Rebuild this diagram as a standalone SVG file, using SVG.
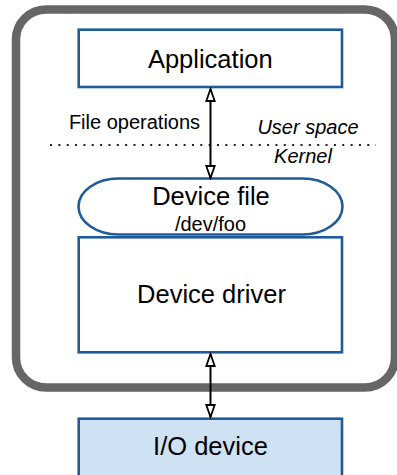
<svg xmlns="http://www.w3.org/2000/svg" width="397" height="475" viewBox="0 0 397 475">
  <style>
    .box { fill: #ffffff; stroke: #1e5b9b; stroke-width: 2.6; }
    .hw { fill: #cfe2f3; stroke: #1e5b9b; stroke-width: 2.6; }
    .lbl { font-family: "Liberation Sans", Arial, sans-serif; fill: #000; text-anchor: middle; }
    .big { font-size: 25.5px; }
    .mid { font-size: 20px; }
    .it { font-style: italic; }
    .link { stroke: #000; stroke-width: 2; fill: none; }
  </style>
  <defs>
    <marker id="head" markerUnits="userSpaceOnUse" markerWidth="16" markerHeight="12" viewBox="0 0 16 12" refX="14" refY="6" orient="auto-start-reverse">
      <path d="M2,1.8 L14,6 L2,10.2 z" fill="#ffffff" stroke="#000" stroke-width="1.8" stroke-linejoin="miter"/>
    </marker>
  </defs>
  <rect width="397" height="475" fill="#ffffff"/>

  <!-- computer enclosure -->
  <g id="system">
    <rect x="16" y="9.5" width="379" height="378" rx="30" ry="30" fill="none" stroke="#666666" stroke-width="8.5"/>
  </g>

  <!-- user / kernel boundary -->
  <g id="boundary">
    <line x1="50" y1="145" x2="376" y2="145" stroke="#222" stroke-width="2" stroke-dasharray="2 6.35"/>
    <text class="lbl mid" x="134.5" y="129">File operations</text>
    <text class="lbl mid it" x="308" y="134">User space</text>
    <text class="lbl mid it" x="303" y="163">Kernel</text>
  </g>

  <g id="application">
    <rect class="box" x="78.7" y="29.7" width="263.3" height="57.3"/>
    <text class="lbl big" x="210.3" y="68">Application</text>
  </g>

  <g id="device-file">
    <rect class="box" x="78.5" y="178.5" width="264" height="56" rx="40" ry="28" stroke-width="1.8"/>
    <text class="lbl big" x="211" y="205">Device file</text>
    <text class="lbl mid" x="210.5" y="231">/dev/foo</text>
  </g>

  <g id="device-driver">
    <rect class="box" x="78.7" y="237.3" width="263.3" height="115"/>
    <text class="lbl big" x="211.5" y="303">Device driver</text>
  </g>

  <g id="io-device">
    <rect class="hw" x="78.7" y="418.7" width="263.3" height="70"/>
    <text class="lbl big" x="210.5" y="455">I/O device</text>
  </g>

  <!-- connectors -->
  <g id="connectors">
    <line class="link" x1="210.5" y1="89" x2="210.5" y2="178" marker-start="url(#head)" marker-end="url(#head)"/>
    <line class="link" x1="210.5" y1="354" x2="210.5" y2="417" marker-start="url(#head)" marker-end="url(#head)"/>
  </g>
</svg>
